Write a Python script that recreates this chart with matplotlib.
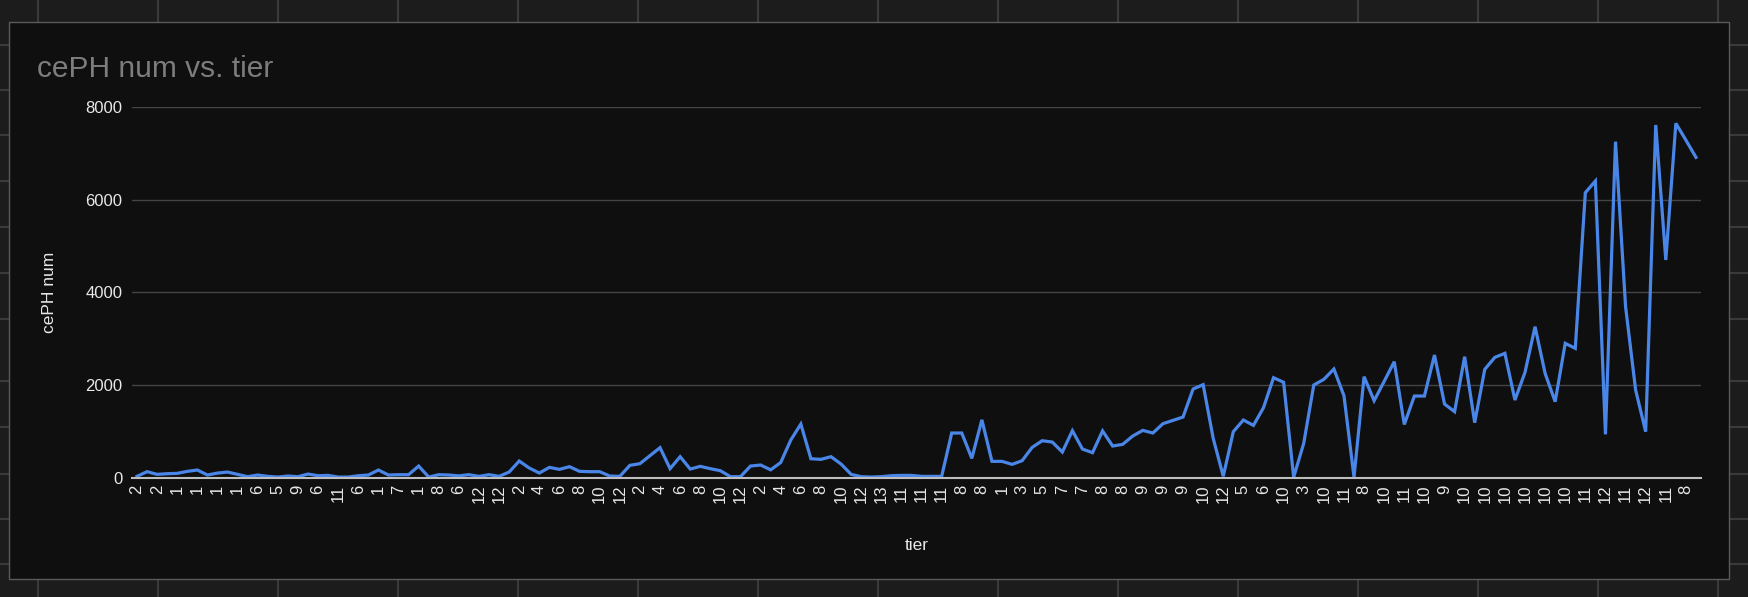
import matplotlib
matplotlib.use('Agg')
import matplotlib.pyplot as plt
from matplotlib.patches import Rectangle
from matplotlib.lines import Line2D

# tier labels shown on the axis (every other row is labelled)
tier_labels = ['2', '2', '1', '1', '1', '1', '6', '5', '9', '6', '11', '6', '1', '7', '1', '8',
               '6', '12', '12', '2', '4', '6', '8', '10', '12', '2', '4', '6', '8', '10', '12',
               '2', '4', '6', '8', '10', '12', '13', '11', '11', '11', '8', '8', '1', '3', '5',
               '7', '7', '8', '8', '9', '9', '9', '10', '12', '5', '6', '10', '3', '10', '11',
               '8', '10', '11', '10', '9', '10', '10', '10', '10', '10', '10', '11', '12', '11',
               '12', '11', '8']

ceph_num = [30, 130, 72, 86, 94, 137, 166, 58, 100, 122, 72, 22, 58, 29, 14, 36,
            22, 79, 43, 50, 14, 14, 43, 58, 166, 58, 65, 65, 252, 14, 65, 58,
            40, 65, 29, 65, 29, 122, 360, 209, 101, 223, 180, 238, 137, 130, 130, 36,
            29, 267, 303, 476, 649, 195, 454, 187, 245, 195, 151, 22, 22, 252, 274, 170,
            328, 814, 1159, 410, 396, 454, 295, 72, 22, 14, 22, 43, 50, 50, 29, 29,
            29, 965, 965, 418, 1250, 353, 353, 288, 367, 655, 799, 770, 554, 1015, 619, 540,
            1010, 684, 720, 900, 1022, 965, 1166, 1238, 1310, 1915, 2009, 850, 30, 994, 1246, 1130,
            1512, 2160, 2060, 10, 742, 2002, 2124, 2347, 1771, 10, 2182, 1663, 2081, 2506, 1150, 1764,
            1764, 2650, 1591, 1426, 2614, 1188, 2340, 2599, 2686, 1678, 2275, 3262, 2254, 1642, 2902, 2794,
            6156, 6408, 936, 7258, 3694, 1894, 994, 7618, 4702, 7654, 7290, 6919]

y_ticks = [0, 2000, 4000, 6000, 8000]

W, H = 1748, 597
plt.rcParams['font.family'] = ['Liberation Sans', 'DejaVu Sans']

fig = plt.figure(figsize=(W / 100, H / 100), dpi=100)
fig.patch.set_facecolor('#1c1c1c')

# spreadsheet cell grid behind the chart
for gx in range(38, W, 120):
    fig.add_artist(Line2D([gx / W, gx / W], [0, 1], color='#3a3a3a', lw=1.5, zorder=-3))
for gy in [45, 90, 135, 181, 227, 273, 319, 381, 427, 474, 519, 564]:
    fig.add_artist(Line2D([0, 1], [1 - gy / H, 1 - gy / H], color='#3a3a3a', lw=1.5, zorder=-3))

# chart card
fig.add_artist(Rectangle((9 / W, 1 - 579 / H), 1720 / W, 557 / H, facecolor='#0f0f0f',
                         edgecolor='#5a5a5a', lw=1, zorder=-1))

ax = fig.add_axes([132 / W, 1 - 477.7 / H, 1569 / W, 370.4 / H])
ax.set_facecolor('none')

x = list(range(len(ceph_num)))
ax.plot(x, ceph_num, color='#4a86e8', lw=2.3, solid_joinstyle='miter', zorder=3)

ax.set_xlim(-0.5, len(ceph_num) - 0.5)
ax.set_ylim(0, 8000)
ax.set_yticks(y_ticks)
ax.set_yticklabels([str(v) for v in y_ticks])
ax.set_xticks(list(range(0, 2 * len(tier_labels), 2)))
ax.set_xticklabels(tier_labels, rotation=90, va='top', ha='center')

ax.grid(axis='y', color='#444444', lw=1)
ax.set_axisbelow(True)
for s in ['top', 'right', 'left']:
    ax.spines[s].set_visible(False)
ax.spines['bottom'].set_color('#bdbdbd')
ax.spines['bottom'].set_linewidth(1.5)
ax.spines['bottom'].set_zorder(4)
ax.tick_params(axis='both', length=0, colors='#e8e8e8', labelsize=12)
ax.tick_params(axis='y', pad=7)
ax.tick_params(axis='x', pad=5)

ax.set_xlabel('tier', color='#e8e8e8', fontsize=12.5, labelpad=25)
ax.set_ylabel('cePH num', color='#e8e8e8', fontsize=12.5, labelpad=20)

fig.text(37 / W, 1 - 77 / H, 'cePH num vs. tier', color='#7d7d7d', fontsize=21.5,
         ha='left', va='baseline')

fig.savefig('out.png', dpi=100, facecolor=fig.get_facecolor())
